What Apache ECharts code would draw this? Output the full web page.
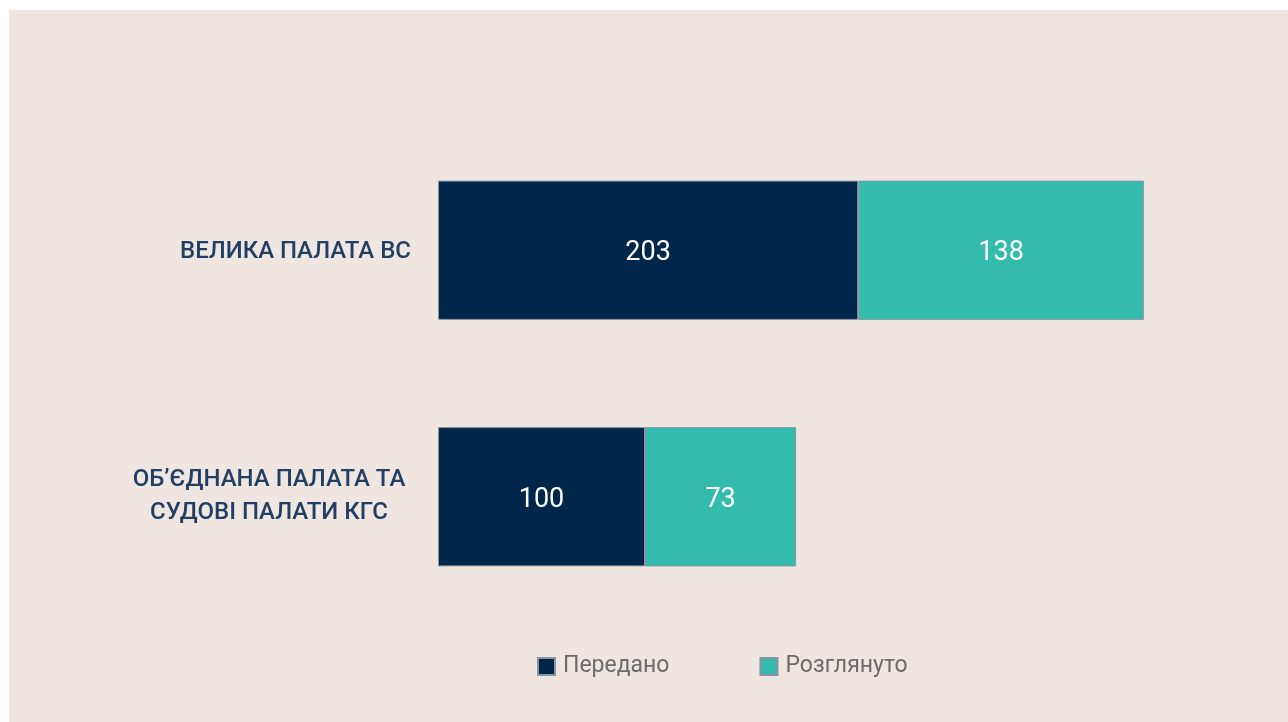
<!DOCTYPE html>
<html>
<head>
<meta charset="utf-8">
<style>
  html, body { margin: 0; padding: 0; background: #ffffff; }
  #chart { position: absolute; left: 9px; top: 10px; width: 1279px; height: 712px; }
</style>
<script src="https://cdn.jsdelivr.net/npm/echarts@6/dist/echarts.min.js"></script>
</head>
<body>
<div id="chart"></div>
<script>
  // категорії та значення
  var categories = ['ВЕЛИКА ПАЛАТА ВС', 'ОБ\u2019ЄДНАНА ПАЛАТА ТА\nСУДОВІ ПАЛАТИ КГС'];
  var seriesNames = ['Передано', 'Розглянуто'];
  var peredano = [203, 100];
  var rozglyanuto = [138, 73];

  var font = 'Roboto, sans-serif';

  var myChart = echarts.init(document.getElementById('chart'));

  var option = {
    backgroundColor: '#EFE6E2',
    animation: false,
    legend: {
      data: seriesNames,
      left: 523,
      top: 640,
      itemWidth: 17,
      itemHeight: 17,
      itemGap: 90,
      icon: 'rect',
      textStyle: { color: '#6B6B6B', fontSize: 23, fontFamily: font, padding: [0, 0, 0, 3] }
    },
    grid: { left: 429, right: 22, top: 117, bottom: 102 },
    xAxis: {
      type: 'value',
      min: 0,
      max: 400,
      show: false
    },
    yAxis: {
      type: 'category',
      data: categories,
      inverse: true,
      axisLine: { show: false },
      axisTick: { show: false },
      splitLine: { show: true, lineStyle: { color: '#F4E2E2', width: 1 } },
      axisLabel: {
        margin: 27,
        formatter: function (v) {
          if (v.indexOf('\n') < 0) return '{b|' + v + '}';
          return v.split('\n').map(function (s) { return '{c|' + s + '}'; }).join('\n');
        },
        rich: {
          b: { color: '#223F63', fontSize: 24, fontWeight: 500, fontFamily: font, padding: [3, 0, 0, 0] },
          c: { color: '#223F63', fontSize: 24, fontWeight: 500, fontFamily: font,
               width: 284, align: 'center', lineHeight: 33 }
        }
      }
    },
    series: [
      {
        name: seriesNames[0],
        type: 'bar',
        stack: 'total',
        barWidth: '56.5%',
        data: peredano,
        itemStyle: { color: '#00264A', borderColor: '#8A94A3', borderWidth: 1 },
        label: { show: true, position: 'inside', offset: [0, 3], color: '#ffffff', fontSize: 27, fontFamily: font }
      },
      {
        name: seriesNames[1],
        type: 'bar',
        stack: 'total',
        data: rozglyanuto,
        itemStyle: { color: '#33BBAE', borderColor: '#8A94A3', borderWidth: 1 },
        label: { show: true, position: 'inside', offset: [0, 3], color: '#ffffff', fontSize: 27, fontFamily: font }
      }
    ]
  };

  myChart.setOption(option);
</script>
</body>
</html>
